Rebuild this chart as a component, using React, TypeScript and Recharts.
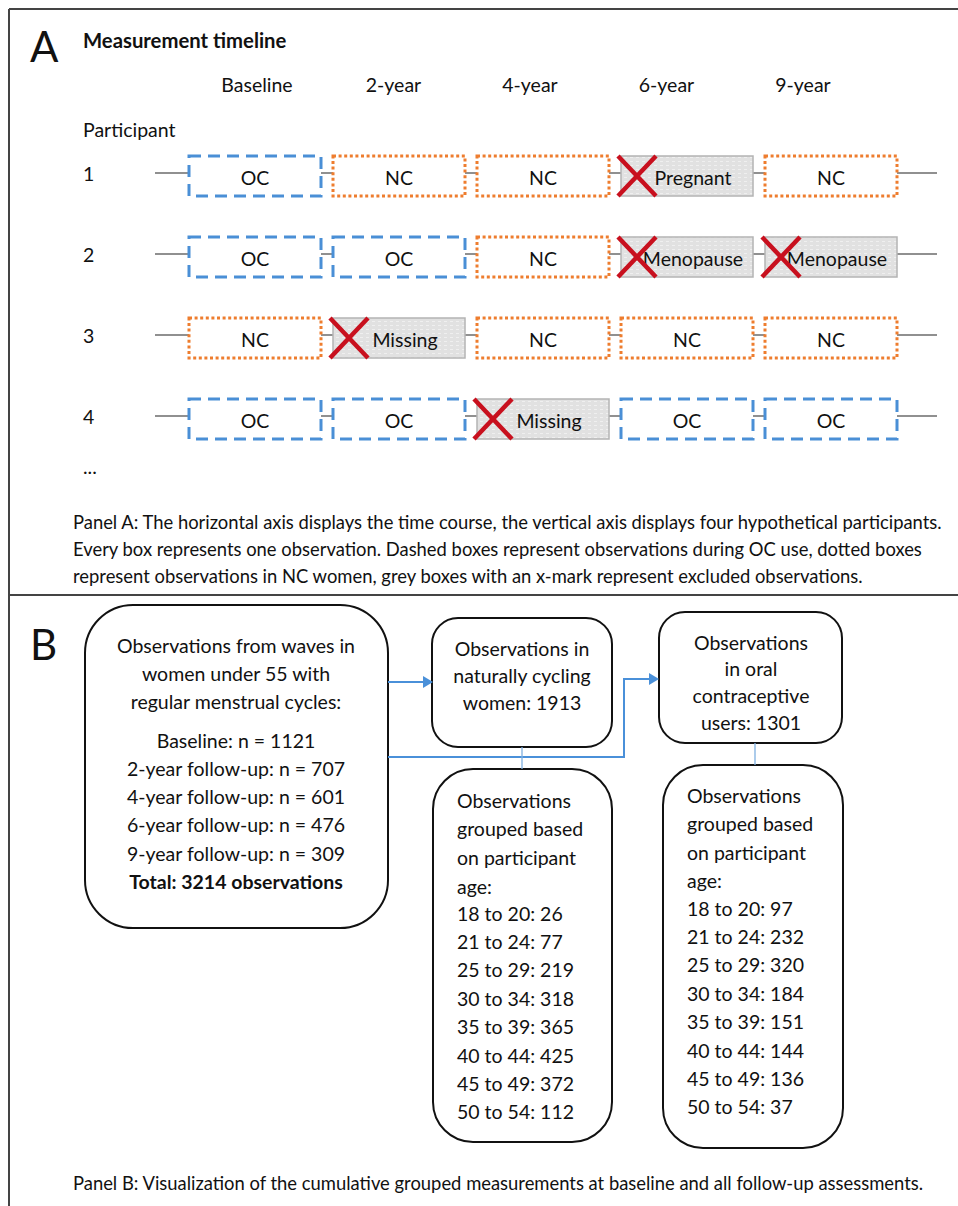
import { ScatterChart, Scatter, XAxis, YAxis } from 'recharts'

// panel A: hypothetical participants, one status per wave
const waves = ['Baseline', '2-year', '4-year', '6-year', '9-year']
const participants = [1, 2, 3, 4]
const participant1 = ['OC', 'NC', 'NC', 'Pregnant', 'NC']
const participant2 = ['OC', 'OC', 'NC', 'Menopause', 'Menopause']
const participant3 = ['NC', 'Missing', 'NC', 'NC', 'NC']
const participant4 = ['OC', 'OC', 'Missing', 'OC', 'OC']

// panel B: observation counts
const followUps = ['Baseline', '2-year follow-up', '4-year follow-up', '6-year follow-up', '9-year follow-up']
const followUpCounts = [1121, 707, 601, 476, 309]
const totalObservations = 3214
const ncTotal = 1913
const ocTotal = 1301
const ageGroups = ['18 to 20', '21 to 24', '25 to 29', '30 to 34', '35 to 39', '40 to 44', '45 to 49', '50 to 54']
const ncByAge = [26, 77, 219, 318, 365, 425, 372, 112]
const ocByAge = [97, 232, 320, 184, 151, 144, 136, 37]

const statusRows = [participant1, participant2, participant3, participant4]
const boxData = statusRows.flatMap((row, r) =>
  row.map((status, w) => ({ wave: w, participant: participants[r], status }))
)
const waveData = waves.map((name, w) => ({ wave: w, participant: 1, name }))

const W = 958
const H = 1206
const CHART_H = 595
const PLOT_LEFT = 150
const PLOT_TOP = 100
const FONT = 'Lato, "Open Sans", sans-serif'
const OC_BLUE = '#4A8FD6'
const NC_ORANGE = '#EE7D2E'
const X_RED = '#C8101E'
const LINK_BLUE = '#4A90D9'
const BOX_W = 132
const BOX_H = 40
const CAPTION_SIZE = 18.4

// domain that puts value v0 at pixel px0 with the given pixels per unit
const span = (v0: number, px0: number, perUnit: number, start: number, end: number) => [
  v0 + (start - px0) / perUnit,
  v0 + (end - px0) / perUnit,
]
const boxDomain = span(0, 255, 144, PLOT_LEFT, W)
const labelDomain = span(0, 257, 136.5, PLOT_LEFT, W)
const rowDomain = span(1, 176, 81, PLOT_TOP, CHART_H)

function ObservationBox(props: any) {
  const { cx, cy, payload } = props
  const left = cx - BOX_W / 2
  const top = cy - BOX_H / 2
  const s = payload.status
  const excluded = s !== 'OC' && s !== 'NC'
  let rect
  if (s === 'OC') {
    rect = <rect x={left} y={top} width={BOX_W} height={BOX_H} fill="#fff" stroke={OC_BLUE} strokeWidth={3} strokeDasharray="12 7" />
  } else if (s === 'NC') {
    rect = <rect x={left} y={top} width={BOX_W} height={BOX_H} fill="#fff" stroke={NC_ORANGE} strokeWidth={3} strokeDasharray="3 2.6" />
  } else {
    rect = <rect x={left} y={top} width={BOX_W} height={BOX_H} fill="url(#greyDots)" stroke="#b4b4b4" strokeWidth={1.5} />
  }
  return (
    <g>
      {payload.wave === 0 && (
        <line x1={155} x2={937} y1={cy - 3} y2={cy - 3} stroke="#222" strokeWidth={1.2} />
      )}
      {rect}
      <text x={excluded ? cx + 6 : cx} y={cy + 1} textAnchor="middle" dominantBaseline="central"
        fontFamily={FONT} fontSize={19.5} fill="#111">{s}</text>
      {excluded && (
        <g stroke={X_RED} strokeWidth={4.5}>
          <line x1={left - 3} y1={top} x2={left + 35} y2={top + BOX_H} />
          <line x1={left + 35} y1={top} x2={left - 3} y2={top + BOX_H} />
        </g>
      )}
    </g>
  )
}

function WaveTick(props: any) {
  const { x, payload } = props
  return (
    <text x={x} y={84} textAnchor="middle" dominantBaseline="central" fontFamily={FONT} fontSize={19.5} fill="#111">
      {waves[payload.value]}
    </text>
  )
}

function ParticipantTick(props: any) {
  const { y, payload } = props
  return (
    <text x={83} y={y - 3} dominantBaseline="central" fontFamily={FONT} fontSize={19.5} fill="#111">
      {payload.value}
    </text>
  )
}

const txt = { fontFamily: FONT, fontSize: 19.5, fill: '#111' }

export default function App() {
  return (
    <div style={{ position: 'absolute', left: 0, top: 0, width: W, height: H, background: '#fff' }}>
      <svg width={W} height={H} style={{ position: 'absolute', left: 0, top: 0 }}>
        <defs>
          <pattern id="greyDots" width="6" height="4" patternUnits="userSpaceOnUse">
            <rect width="6" height="4" fill="#e1e1e1" />
            <rect x="0" y="1" width="3" height="1" fill="#efefef" />
          </pattern>
        </defs>
        {/* frame */}
        <g stroke="#444" strokeWidth={2}>
          <line x1={9} y1={9} x2={W} y2={9} />
          <line x1={9} y1={9} x2={9} y2={H} />
          <line x1={9} y1={595} x2={W} y2={595} />
        </g>
        <text x={30} y={62} fontFamily={FONT} fontSize={42} fill="#111">A</text>
        <text x={30} y={660} fontFamily={FONT} fontSize={42} fill="#111">B</text>
        <text x={83} y={48} fontFamily={FONT} fontSize={20.3} fontWeight={700} fill="#111">Measurement timeline</text>
        <text x={83} y={129} dominantBaseline="central" {...txt}>Participant</text>
        <text x={83} y={466} dominantBaseline="central" {...txt}>...</text>
        <g fontFamily={FONT} fontSize={CAPTION_SIZE} fill="#111">
          <text x={73} y={529}>Panel A: The horizontal axis displays the time course, the vertical axis displays four hypothetical participants.</text>
          <text x={73} y={556}>Every box represents one observation. Dashed boxes represent observations during OC use, dotted boxes</text>
          <text x={73} y={583}>represent observations in NC women, grey boxes with an x-mark represent excluded observations.</text>
        </g>

        {/* panel B flow */}
        <rect x={85} y={605} width={303} height={323} rx={48} fill="#fff" stroke="#111" strokeWidth={2} />
        <g textAnchor="middle" dominantBaseline="central" {...txt}>
          <text x={236} y={645}>Observations from waves in</text>
          <text x={236} y={673}>women under 55 with</text>
          <text x={236} y={701}>regular menstrual cycles:</text>
          {followUps.map((f, i) => (
            <text key={f} x={236} y={740 + i * 28.3}>{`${f}: n = ${followUpCounts[i]}`}</text>
          ))}
          <text x={236} y={881} fontWeight={700}>{`Total: ${totalObservations} observations`}</text>
        </g>

        <rect x={432} y={618} width={180} height={129} rx={26} fill="#fff" stroke="#111" strokeWidth={2} />
        <g textAnchor="middle" dominantBaseline="central" {...txt}>
          <text x={522} y={648}>Observations in</text>
          <text x={522} y={675}>naturally cycling</text>
          <text x={522} y={702}>{`women: ${ncTotal}`}</text>
        </g>

        <rect x={659} y={612} width={183} height={131} rx={26} fill="#fff" stroke="#111" strokeWidth={2} />
        <g textAnchor="middle" dominantBaseline="central" {...txt}>
          <text x={751} y={642}>Observations</text>
          <text x={751} y={668}>in oral</text>
          <text x={751} y={695}>contraceptive</text>
          <text x={751} y={722}>{`users: ${ocTotal}`}</text>
        </g>

        <rect x={433} y={769} width={179} height={373} rx={40} fill="#fff" stroke="#111" strokeWidth={2} />
        <g dominantBaseline="central" {...txt}>
          <text x={457} y={800}>Observations</text>
          <text x={457} y={828}>grouped based</text>
          <text x={457} y={857}>on participant</text>
          <text x={457} y={886}>age:</text>
          {ageGroups.map((a, i) => (
            <text key={a} x={457} y={913 + i * 28.4}>{`${a}: ${ncByAge[i]}`}</text>
          ))}
        </g>

        <rect x={663} y={765} width={180} height={383} rx={40} fill="#fff" stroke="#111" strokeWidth={2} />
        <g dominantBaseline="central" {...txt}>
          <text x={687} y={795}>Observations</text>
          <text x={687} y={823}>grouped based</text>
          <text x={687} y={852}>on participant</text>
          <text x={687} y={880}>age:</text>
          {ageGroups.map((a, i) => (
            <text key={a} x={687} y={908 + i * 28.4}>{`${a}: ${ocByAge[i]}`}</text>
          ))}
        </g>

        <g stroke={LINK_BLUE} strokeWidth={2} fill="none">
          <line x1={388} y1={682} x2={424} y2={682} />
          <polyline points="388,757 624,757 624,679 650,679" />
        </g>
        <g fill={LINK_BLUE}>
          <polygon points="423,676 433,682 423,688" />
          <polygon points="649,673 659,679 649,685" />
        </g>
        <g stroke="#7fb0e0" strokeWidth={1.3}>
          <line x1={522} y1={747} x2={522} y2={769} />
          <line x1={755} y1={743} x2={755} y2={765} />
        </g>

        <text x={73} y={1190} fontFamily={FONT} fontSize={CAPTION_SIZE} fill="#111">
          Panel B: Visualization of the cumulative grouped measurements at baseline and all follow-up assessments.
        </text>
      </svg>

      <div style={{ position: 'absolute', left: 0, top: 0 }}>
        <ScatterChart width={W} height={CHART_H} margin={{ top: 0, right: 0, bottom: 0, left: 0 }}>
          <XAxis xAxisId="box" dataKey="wave" type="number" scale="linear" domain={boxDomain} allowDataOverflow hide />
          <XAxis xAxisId="label" dataKey="wave" type="number" scale="linear" domain={labelDomain} allowDataOverflow
            orientation="top" height={PLOT_TOP} ticks={[0, 1, 2, 3, 4]} axisLine={false} tickLine={false} tick={<WaveTick />} />
          <YAxis dataKey="participant" type="number" scale="linear" domain={rowDomain} allowDataOverflow reversed
            width={PLOT_LEFT} ticks={participants} axisLine={false} tickLine={false} tick={<ParticipantTick />} />
          <Scatter xAxisId="label" data={waveData} shape={() => <g />} isAnimationActive={false} />
          <Scatter xAxisId="box" data={boxData} shape={<ObservationBox />} isAnimationActive={false} />
        </ScatterChart>
      </div>
    </div>
  )
}
